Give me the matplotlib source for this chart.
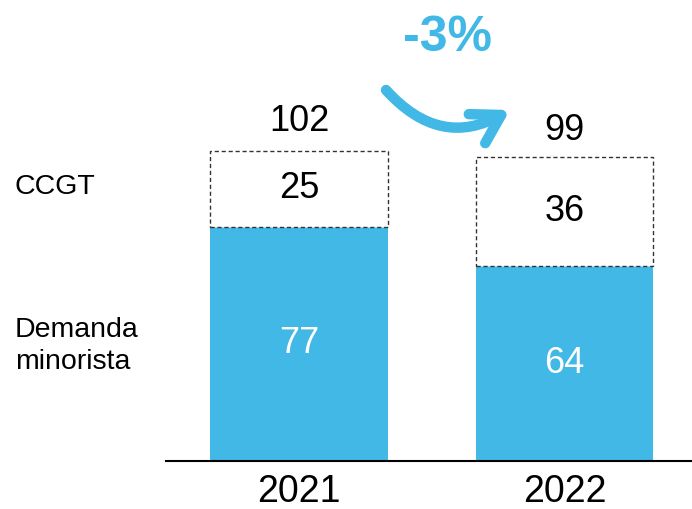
import matplotlib.pyplot as plt

plt.rcParams['font.family'] = ['Liberation Sans', 'DejaVu Sans']

years = ['2021', '2022']
retail = [77, 64]
ccgt = [25, 36]
totals = [102, 99]
change = '-3%'

blue = '#41B8E5'

fig = plt.figure(figsize=(6.92, 5.09), dpi=100)
ax = fig.add_axes([166 / 692, 48 / 509, 526 / 692, 461 / 509])

x = list(range(len(years)))
w = 0.667
ax.bar(x, retail, width=w, color=blue, linewidth=0)
ax.bar(x, ccgt, width=w, bottom=retail, color='white', edgecolor='#333333',
       linewidth=1, linestyle=(0, (3, 2)))

for i in x:
    ax.text(i, retail[i] / 2, str(retail[i]), ha='center', va='center',
            color='white', fontsize=26)
    ax.text(i, retail[i] + ccgt[i] / 2, str(ccgt[i]), ha='center', va='center',
            color='black', fontsize=26)
    ax.text(i, totals[i] + 4, str(totals[i]), ha='center', va='bottom',
            color='black', fontsize=26)
    ax.text(i, -13.6, years[i], ha='center', va='baseline', fontsize=27)

ax.set_xlim(-0.501, 1.480)
ax.set_ylim(0, 151.6)
for s in ['top', 'right', 'left']:
    ax.spines[s].set_visible(False)
ax.spines['bottom'].set_linewidth(1.5)
ax.set_xticks([])
ax.set_yticks([])

# left row labels
fig.text(15 / 692, 1 - 187 / 509, 'CCGT', fontsize=20.5, va='center', ha='left')
fig.text(15 / 692, 1 - 346 / 509, 'Demanda\nminorista', fontsize=20.5,
         va='center', ha='left', linespacing=1.3)

# change arrow
fig.text(447 / 692, 1 - 38 / 509, change, fontsize=36, fontweight='bold',
         color=blue, ha='center', va='center')
ax.annotate('', xy=(510, 509 - 110), xycoords='figure pixels',
            xytext=(386, 509 - 90), textcoords='figure pixels',
            arrowprops=dict(arrowstyle='->,head_length=2.0,head_width=1.2',
                            connectionstyle='arc3,rad=0.4',
                            color=blue, lw=7.5, capstyle='round',
                            joinstyle='round', shrinkA=0, shrinkB=0))

fig.savefig('out.png', dpi=100)
